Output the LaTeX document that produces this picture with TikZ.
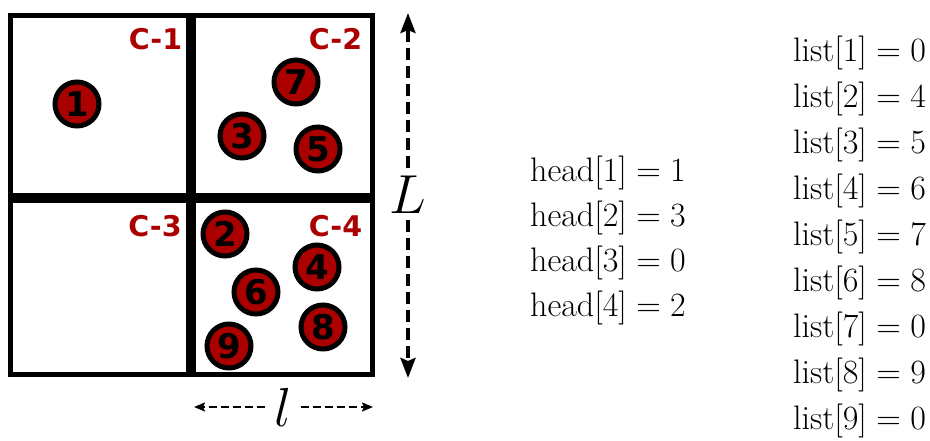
\RequirePackage{fix-cm}
\documentclass[tikz,border=0pt]{standalone}
\usepackage{fontspec}
\newfontfamily\djb{DejaVu Sans}
\usetikzlibrary{arrows.meta}
\definecolor{dred}{RGB}{170,0,0}
\begin{document}
\begin{tikzpicture}[x=1pt,y=-1pt,
  cell/.style={draw, line width=5pt, inner sep=0pt},
  ball/.style={circle, draw=black, line width=5pt, fill=dred, minimum size=44pt, inner sep=0pt,
    font=\djb\bfseries\fontsize{34}{34}\selectfont},
  clabel/.style={text=dred, inner sep=0pt, font=\djb\bfseries\fontsize{28.5}{28.5}\selectfont},
  eq/.style={anchor=base west, inner sep=0pt, font=\fontsize{34}{40}\selectfont},
  dimlbl/.style={anchor=base, inner sep=7pt, font=\fontsize{55}{60}\selectfont},
  vdim/.style={line width=3.5pt, dash pattern=on 12pt off 6pt, -{Stealth[length=20pt,width=15pt,inset=3pt]}},
  hdim/.style={line width=2pt, dash pattern=on 8pt off 4pt, -{Stealth[length=11pt,width=9pt,inset=2pt]}}
]
\useasboundingbox (0,0) rectangle (930,440);

% cells
\node[cell, minimum width=177.7pt, minimum height=179.5pt] (c1) at (99.35,105.25) {};
\node[cell, minimum width=179.2pt, minimum height=179.5pt] (c2) at (282.9,105.25) {};
\node[cell, minimum width=177.7pt, minimum height=174.3pt] (c3) at (99.35,287.35) {};
\node[cell, minimum width=179.2pt, minimum height=174.3pt] (c4) at (282.9,287.35) {};

% cell labels
\node[clabel] (l1) at (155.5,39) {C-1};
\node[clabel] (l2) at (335.5,39) {C-2};
\node[clabel] (l3) at (155,226) {C-3};
\node[clabel] (l4) at (335.5,226) {C-4};

% particles
\node[ball] (p1) at (77,104) {1};
\node[ball] (p7) at (296,82) {7};
\node[ball] (p3) at (242,136) {3};
\node[ball] (p5) at (318,149) {5};
\node[ball] (p2) at (225,234) {2};
\node[ball] (p4) at (317,267) {4};
\node[ball] (p6) at (256,292) {6};
\node[ball] (p8) at (323,327) {8};
\node[ball] (p9) at (229,346) {9};

% dimension L
\coordinate (Ltop) at (408,13);
\coordinate (Lbot) at (408,378);
\node[dimlbl] (L) at (408,213) {$L$};
\draw[vdim] (L.north) -- (Ltop);
\draw[vdim] (L.south) -- (Lbot);

% dimension l
\coordinate (lleft) at (194,407);
\coordinate (lright) at (373,407);
\node[dimlbl, inner sep=9pt] (ll) at (283,426) {$l$};
\draw[hdim] (ll.west |- lleft) -- (lleft);
\draw[hdim] (ll.east |- lright) -- (lright);

% head array
\node[eq] (h1) at (530,181.5) {$\mathrm{head}[1]=1$};
\node[eq] (h2) at (530,226.5) {$\mathrm{head}[2]=3$};
\node[eq] (h3) at (530,271.5) {$\mathrm{head}[3]=0$};
\node[eq] (h4) at (530,316.5) {$\mathrm{head}[4]=2$};

% list array
\node[eq] (s1) at (793,61.5) {$\mathrm{list}[1]=0$};
\node[eq] (s2) at (793,107.5) {$\mathrm{list}[2]=4$};
\node[eq] (s3) at (793,153.5) {$\mathrm{list}[3]=5$};
\node[eq] (s4) at (793,199.5) {$\mathrm{list}[4]=6$};
\node[eq] (s5) at (793,245.5) {$\mathrm{list}[5]=7$};
\node[eq] (s6) at (793,291.5) {$\mathrm{list}[6]=8$};
\node[eq] (s7) at (793,337.5) {$\mathrm{list}[7]=0$};
\node[eq] (s8) at (793,383.5) {$\mathrm{list}[8]=9$};
\node[eq] (s9) at (793,429.5) {$\mathrm{list}[9]=0$};
\end{tikzpicture}
\end{document}
